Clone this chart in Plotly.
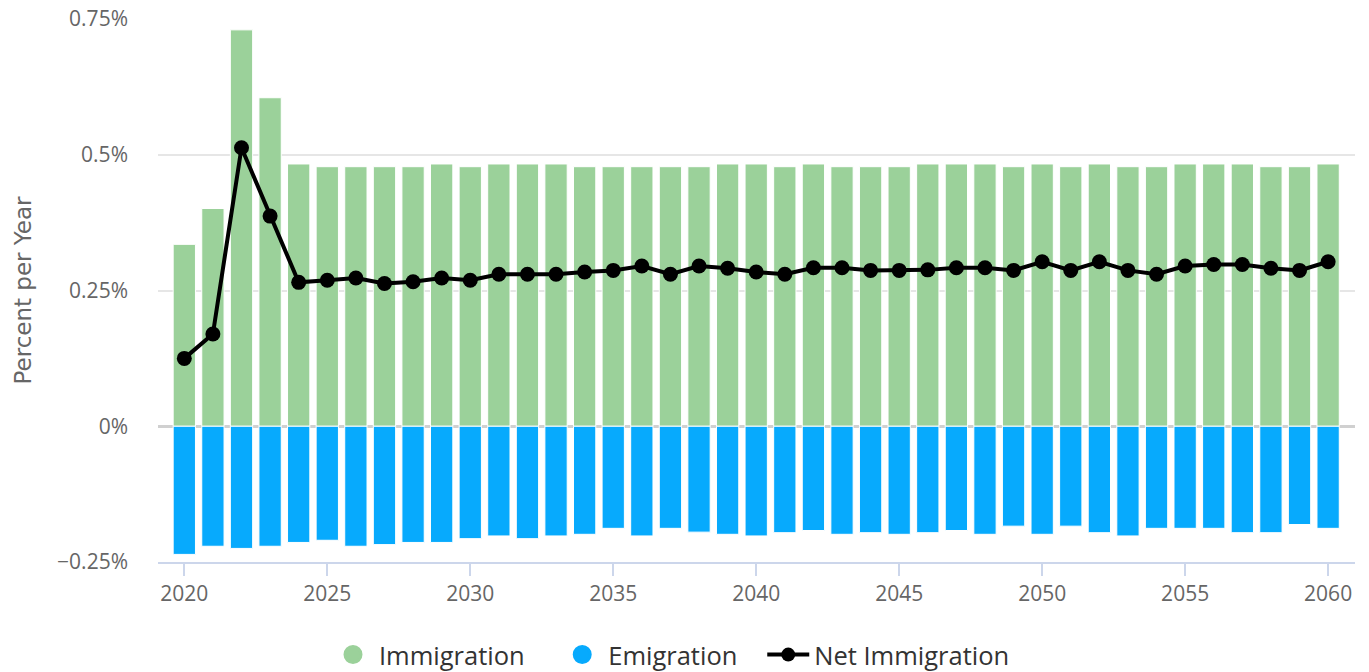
import plotly.graph_objects as go

years = list(range(2020, 2061))

immigration = [0.335, 0.401, 0.730, 0.605,
               0.483, 0.478, 0.478, 0.478, 0.478, 0.483, 0.478, 0.483, 0.483, 0.483,
               0.478, 0.478, 0.478, 0.478, 0.478, 0.483, 0.483, 0.478, 0.483, 0.478,
               0.478, 0.478, 0.483, 0.483, 0.483, 0.478, 0.483, 0.478, 0.483, 0.478,
               0.478, 0.483, 0.483, 0.483, 0.478, 0.478, 0.483]

emigration = [-0.236, -0.221, -0.225, -0.221, -0.214, -0.210, -0.221, -0.218, -0.214, -0.214,
              -0.207, -0.202, -0.207, -0.202, -0.199, -0.188, -0.202, -0.188, -0.195, -0.199,
              -0.202, -0.196, -0.192, -0.199, -0.196, -0.199, -0.196, -0.192, -0.199, -0.184,
              -0.199, -0.184, -0.196, -0.202, -0.188, -0.188, -0.188, -0.196, -0.196, -0.181,
              -0.188]

net_immigration = [0.125, 0.170, 0.513, 0.387, 0.265, 0.269, 0.273, 0.263, 0.266, 0.273,
                   0.269, 0.280, 0.280, 0.280, 0.284, 0.287, 0.295, 0.280, 0.295, 0.291,
                   0.284, 0.280, 0.292, 0.292, 0.287, 0.287, 0.288, 0.292, 0.292, 0.287,
                   0.303, 0.287, 0.303, 0.287, 0.280, 0.295, 0.298, 0.298, 0.291, 0.287,
                   0.303]

series_names = ["Immigration", "Emigration", "Net Immigration"]
y_tickvals = [-0.25, 0, 0.25, 0.5, 0.75]
y_ticktext = ["\u22120.25%", "0%", "0.25%", "0.5%", "0.75%"]
x_tickvals = [2020, 2025, 2030, 2035, 2040, 2045, 2050, 2055, 2060]

GREEN = "#9bd19a"
BLUE = "#07aafd"
FONT = "Open Sans"
TITLE_FONT = "DejaVu Sans"
NBSP = "\u00a0"

fig = go.Figure()
fig.add_trace(go.Bar(x=years, y=immigration, name=series_names[0],
                     marker=dict(color=GREEN, line=dict(color="white", width=1)),
                     width=0.78, showlegend=False, legendgroup="imm"))
fig.add_trace(go.Bar(x=years, y=emigration, name=series_names[1],
                     marker=dict(color=BLUE, line=dict(color="white", width=1)),
                     width=0.78, showlegend=False, legendgroup="emi"))
fig.add_trace(go.Scatter(x=years, y=net_immigration, name=series_names[2], mode="lines+markers",
                         line=dict(color="black", width=4), marker=dict(color="black", size=15),
                         showlegend=False, legendgroup="net"))
# legend proxies (circle symbols like the reference); trailing spaces widen gaps between items
fig.add_trace(go.Scatter(x=[None], y=[None], mode="markers", name=series_names[0] + NBSP * 4, legendgroup="imm",
                         marker=dict(color=GREEN, size=22, symbol="circle", line=dict(color=GREEN, width=3))))
fig.add_trace(go.Scatter(x=[None], y=[None], mode="markers", name=series_names[1] + NBSP * 3, legendgroup="emi",
                         marker=dict(color=BLUE, size=22, symbol="circle", line=dict(color=BLUE, width=3))))
fig.add_trace(go.Scatter(x=[None], y=[None], mode="lines+markers", name=series_names[2], legendgroup="net",
                         line=dict(color="black", width=4), marker=dict(color="black", size=14)))

fig.update_layout(
    width=1369, height=672,
    margin=dict(l=158, r=14, t=19, b=110, autoexpand=False),
    plot_bgcolor="white", paper_bgcolor="white",
    barmode="overlay",
    font=dict(family=FONT, color="#666666", size=21),
    legend=dict(orientation="h", x=(327 - 158) / 1197, xanchor="left", y=(562 - 655) / 543, yanchor="middle",
                font=dict(family=FONT, size=25.5, color="#333333"), itemwidth=42,
                traceorder="normal"),
    xaxis=dict(range=[2019.08, 2060.94], tickvals=x_tickvals, showgrid=False, zeroline=False,
               showline=True, linecolor="#ccd6eb", linewidth=2, ticks="outside", ticklen=12,
               tickcolor="#ccd6eb", tickwidth=2, tickfont=dict(family=FONT, size=21, color="#666666")),
    yaxis=dict(range=[-0.25, 0.75], tickvals=y_tickvals, ticktext=y_ticktext, showgrid=True,
               gridcolor="#e6e6e6", gridwidth=2, zeroline=True, zerolinecolor="#d0d0d0", zerolinewidth=3,
               showline=False, ticklabelstandoff=29, tickfont=dict(family=FONT, size=21, color="#666666")),
    annotations=[dict(text="Percent per Year", textangle=-90, xref="paper", yref="paper",
                      x=(22 - 158) / 1197, y=0.5, xanchor="center", yanchor="middle", showarrow=False,
                      font=dict(family=TITLE_FONT, size=23, color="#666666"))],
)

fig.write_html("out.html", config={"displayModeBar": False},
               post_script="document.body.style.margin='0';document.body.style.overflow='hidden';")
